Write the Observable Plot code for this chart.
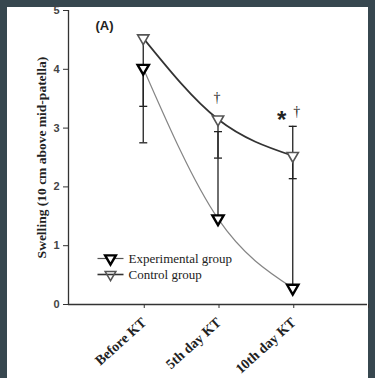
<!DOCTYPE html>
<html><head><meta charset="utf-8">
<script src="https://cdn.jsdelivr.net/npm/d3@7"></script>
<script src="https://cdn.jsdelivr.net/npm/@observablehq/plot@0.6"></script>
<style>
html,body{margin:0;padding:0;background:#37474f;width:375px;height:378px;overflow:hidden;position:relative}
#paper{position:absolute;left:7px;top:7px;width:361px;height:371px;background:#fff}
#chart{position:absolute;left:0;top:0;width:375px;height:378px}
#chart svg{background:transparent;display:block}
</style></head><body><div id="paper"></div><div id="chart"></div>
<script>
const categories = ["Before KT", "5th day KT", "10th day KT"];
const experimental = [4.02, 1.46, 0.28];
const experimentalErrEnd = [2.75, 2.94, 3.03];
const control = [4.53, 3.15, 2.53];
const controlErrEnd = [3.37, 2.49, 2.14];
const yTicks = [0, 1, 2, 3, 4, 5];
const yLabel = "Swelling (10 cm above mid-patella)";
const panelLabel = "(A)";
const seriesNames = ["Experimental group", "Control group"];
const annotations = [
  {cat: "5th day KT", y: 3.52, text: "†", size: 14, dx: -1, dy: 0, font: "serif"},
  {cat: "10th day KT", y: 3.25, text: "*", size: 24, dx: -11, dy: 7, font: "sans"},
  {cat: "10th day KT", y: 3.28, text: "†", size: 14, dx: 4, dy: 0, font: "serif"}
];

const rows = categories.map((c, i) => ({
  x: i + 1, cat: c,
  exp: experimental[i], expErr: experimentalErrEnd[i],
  ctrl: control[i], ctrlErr: controlErrEnd[i]
}));
const catIndex = c => categories.indexOf(c) + 1;

const hline = {draw(ctx, size) { const r = Math.sqrt(size / Math.PI); ctx.moveTo(-r, 0); ctx.lineTo(r, 0); }};

const serif = "Liberation Serif, Times New Roman, serif";
const sans = "Liberation Sans, Arial, sans-serif";

const chart = Plot.plot({
  width: 375, height: 378,
  marginLeft: 68, marginRight: 8, marginTop: 10, marginBottom: 74,
  style: {background: "transparent", fontFamily: sans, color: "#222", overflow: "visible"},
  x: {type: "linear", domain: [0, 4]},
  y: {domain: [0, 5]},
  marks: [
    Plot.axisY({ticks: yTicks, tickSize: 5, tickPadding: 4, label: null, tickFormat: "d", fontSize: 11, fontWeight: "bold", fill: "#444", stroke: "#333"}),
    Plot.axisX({ticks: [1, 2, 3, 4], tickSize: 4, tickPadding: 12, dx: 1, tickRotate: -42, label: null,
      tickFormat: d => categories[d - 1] ?? "", fontSize: 14, fontWeight: "bold", fontFamily: serif, fill: "#222", stroke: "#333"}),
    Plot.ruleX([0], {stroke: "#333", strokeWidth: 1.3}),
    Plot.ruleY([0], {stroke: "#333", strokeWidth: 1.3}),
    // error bars
    Plot.ruleX(rows, {x: "x", y1: "exp", y2: "expErr", stroke: "#222", strokeWidth: 1.3}),
    Plot.ruleX(rows, {x: "x", y1: "ctrl", y2: "ctrlErr", stroke: "#222", strokeWidth: 1.3}),
    Plot.dot(rows, {x: "x", y: "expErr", symbol: hline, r: 4, stroke: "#222", strokeWidth: 1.3}),
    Plot.dot(rows, {x: "x", y: "ctrlErr", symbol: hline, r: 4, stroke: "#222", strokeWidth: 1.3}),
    // lines
    Plot.line(rows, {x: "x", y: "exp", curve: "natural", stroke: "#858585", strokeWidth: 1.2}),
    Plot.line(rows, {x: "x", y: "ctrl", curve: "natural", stroke: "#333", strokeWidth: 1.7}),
    // markers
    Plot.dot(rows, {x: "x", y: "ctrl", symbol: "triangle", rotate: 180, r: 4.2, stroke: "#555", strokeWidth: 1.6, fill: "white"}),
    Plot.dot(rows, {x: "x", y: "exp", symbol: "triangle", rotate: 180, r: 4.2, stroke: "#000", strokeWidth: 2.4, fill: "white"}),
    // annotations
    ...annotations.map(a => Plot.text([a], {x: d => catIndex(d.cat), y: "y", text: "text", fontSize: a.size, dx: a.dx, dy: a.dy,
      fontWeight: a.font === "sans" ? "bold" : "normal", fontFamily: a.font === "sans" ? sans : serif, fill: "#222"})),
    // y label
    Plot.text([yLabel], {frameAnchor: "left", rotate: -90, dx: -27, textAnchor: "middle", lineAnchor: "middle", fontSize: 13.5, fontWeight: "bold", fontFamily: serif, fill: "#222"}),
    // panel label
    Plot.text([panelLabel], {frameAnchor: "top-left", dx: 27, dy: 10, fontSize: 13, fontWeight: "bold", fontFamily: sans, fill: "#222", textAnchor: "start"}),
    // legend
    Plot.dot([seriesNames[0]], {frameAnchor: "bottom-left", dx: 42, dy: -46, symbol: hline, r: 13, stroke: "#555", strokeWidth: 1.2}),
    Plot.dot([seriesNames[0]], {frameAnchor: "bottom-left", dx: 42, dy: -46, symbol: "triangle", rotate: 180, r: 4, stroke: "#000", strokeWidth: 2.4, fill: "white"}),
    Plot.dot([seriesNames[1]], {frameAnchor: "bottom-left", dx: 42, dy: -30, symbol: hline, r: 13, stroke: "#333", strokeWidth: 1.6}),
    Plot.dot([seriesNames[1]], {frameAnchor: "bottom-left", dx: 42, dy: -30, symbol: "triangle", rotate: 180, r: 4, stroke: "#555", strokeWidth: 1.5, fill: "none"}),
    Plot.text([seriesNames[0]], {frameAnchor: "bottom-left", dx: 60, dy: -46, textAnchor: "start", lineAnchor: "middle", fontSize: 13, fontFamily: serif, fill: "#222"}),
    Plot.text([seriesNames[1]], {frameAnchor: "bottom-left", dx: 60, dy: -30, textAnchor: "start", lineAnchor: "middle", fontSize: 13, fontFamily: serif, fill: "#222"})
  ]
});
document.getElementById("chart").appendChild(chart);
</script></body></html>
